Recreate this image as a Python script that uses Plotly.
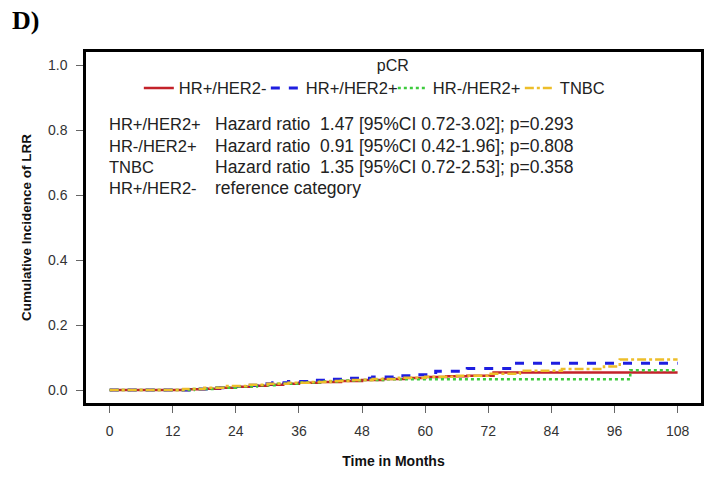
import plotly.graph_objects as go

# ---- data ----
red_t = [0, 15, 18, 21, 24, 27, 30, 33, 36, 40, 44, 48, 52, 56, 60, 64, 68, 73, 108]
red_v = [0, 0.002, 0.004, 0.007, 0.010, 0.013, 0.016, 0.019, 0.022, 0.025, 0.028, 0.031, 0.034, 0.037, 0.040, 0.042, 0.044, 0.054, 0.054]

blue_t = [0, 16, 19, 22, 25, 28, 31, 34, 38, 42, 46, 50, 54, 58, 62, 68, 77, 108]
blue_v = [0, 0.003, 0.007, 0.011, 0.015, 0.019, 0.022, 0.026, 0.030, 0.033, 0.036, 0.040, 0.044, 0.047, 0.058, 0.066, 0.082, 0.082]

green_t = [0, 16, 20, 24, 28, 32, 36, 40, 44, 48, 52, 99, 108]
green_v = [0, 0.003, 0.007, 0.011, 0.015, 0.019, 0.023, 0.026, 0.029, 0.031, 0.033, 0.061, 0.061]

tnbc_t = [0, 14, 18, 22, 26, 30, 34, 38, 42, 46, 50, 55, 60, 66, 72, 78, 86, 94, 97, 108]
tnbc_v = [0, 0.003, 0.007, 0.012, 0.016, 0.019, 0.022, 0.025, 0.028, 0.031, 0.034, 0.038, 0.041, 0.044, 0.050, 0.059, 0.065, 0.072, 0.094, 0.094]

series_names = ["HR+/HER2-", "HR+/HER2+", "HR-/HER2+", "TNBC"]
x_ticks = [0, 12, 24, 36, 48, 60, 72, 84, 96, 108]
y_ticks = [0.0, 0.2, 0.4, 0.6, 0.8, 1.0]
y_tick_labels = ["0.0", "0.2", "0.4", "0.6", "0.8", "1.0"]

ann_labels = ["HR+/HER2+", "HR-/HER2+", "TNBC", "HR+/HER2-"]
ann_texts = ["Hazard ratio&nbsp; 1.47 [95%CI 0.72-3.02]; p=0.293",
             "Hazard ratio&nbsp; 0.91 [95%CI 0.42-1.96]; p=0.808",
             "Hazard ratio&nbsp; 1.35 [95%CI 0.72-2.53]; p=0.358",
             "reference category"]
ann_y = [0.818, 0.752, 0.687, 0.621]

FONT = "Liberation Sans, Arial, sans-serif"

fig = go.Figure()
styles = [
    (red_t, red_v, dict(color="#C3222A", width=2.5, dash="solid")),
    (blue_t, blue_v, dict(color="#1E1EE0", width=3, dash="dash")),
    (green_t, green_v, dict(color="#3DCB3D", width=2.5, dash="dot")),
    (tnbc_t, tnbc_v, dict(color="#EDBE2A", width=2.5, dash="dashdot")),
]
for (t, v, ln), nm in zip(styles, series_names):
    fig.add_trace(go.Scatter(x=t, y=v, mode="lines", line=dict(shape="hv", **ln), name=nm))

for lab, txt, yy in zip(ann_labels, ann_texts, ann_y):
    fig.add_annotation(x=-0.45, y=yy, xref="x", yref="y", text=lab, showarrow=False,
                       xanchor="left", yanchor="middle", font=dict(family=FONT, size=16.5, color="#222"))
    fig.add_annotation(x=19.7, y=yy, xref="x", yref="y", text=txt, showarrow=False,
                       xanchor="left", yanchor="middle", font=dict(family=FONT, size=17.5, color="#222"))

fig.add_annotation(xref="paper", yref="paper", x=-76 / 617, y=1 + 48 / 353,
                   text="<b>D)</b>", showarrow=False, xanchor="left", yanchor="top",
                   font=dict(family="Liberation Serif, Times New Roman, serif", size=26, color="black"))

fig.update_layout(
    width=716, height=479,
    margin=dict(l=86, r=13, t=52, b=74),
    paper_bgcolor="white", plot_bgcolor="white",
    font=dict(family=FONT, size=14, color="#222"),
    showlegend=True,
    legend=dict(
        orientation="h", x=(139 - 86) / 617, y=1 + 2 / 353, xanchor="left", yanchor="top",
        title=dict(text="pCR", side="top center", font=dict(family=FONT, size=16, color="#222")),
        font=dict(family=FONT, size=16.5, color="#222"),
        entrywidth=82, entrywidthmode="pixels",
        bgcolor="rgba(0,0,0,0)", tracegroupgap=0,
    ),
    xaxis=dict(
        range=[-4.5, 112.45], tickmode="array", tickvals=x_ticks,
        ticks="outside", ticklen=7, tickwidth=1, tickcolor="#666",
        showline=True, linecolor="black", linewidth=2.5, mirror=True,
        showgrid=False, zeroline=False,
        tickfont=dict(family=FONT, size=14, color="#333"),
        ticklabelstandoff=6,
        title=dict(text="<b>Time in Months</b>", font=dict(family=FONT, size=14, color="#111"), standoff=19),
    ),
    yaxis=dict(
        range=[-0.04, 1.04], tickmode="array", tickvals=y_ticks, ticktext=y_tick_labels,
        ticks="outside", ticklen=7, tickwidth=1, tickcolor="#666",
        showline=True, linecolor="black", linewidth=2.5, mirror=True,
        showgrid=False, zeroline=False,
        tickfont=dict(family=FONT, size=14, color="#333"),
        ticklabelstandoff=6,
        title=dict(text="<b>Cumulative Incidence of LRR</b>", font=dict(family=FONT, size=13.5, color="#111"), standoff=14),
    ),
)

fig.write_html("out.html")
